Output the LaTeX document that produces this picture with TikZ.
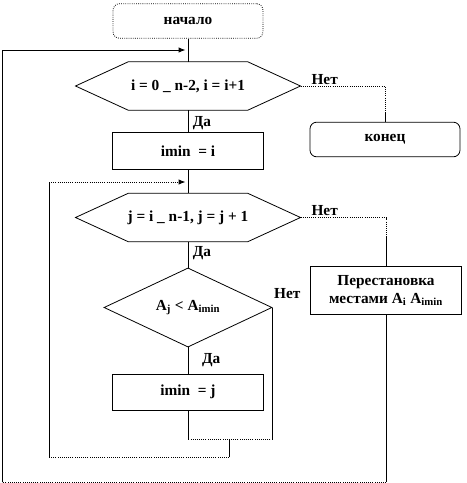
\documentclass[tikz,border=0pt]{standalone}
\usepackage{fontspec}
\setmainfont{Liberation Serif}
\usetikzlibrary{arrows.meta,positioning,calc,shapes.geometric}

\begin{document}
\begin{tikzpicture}[x=0.75pt,y=-0.75pt,line width=0.6pt,
  font=\fontsize{11.5}{13.5}\selectfont\bfseries,
  term/.style={draw,densely dotted,rounded corners=5pt,minimum width=112.5pt,minimum height=26pt,inner sep=0pt},
  proc/.style={draw,minimum width=113pt,minimum height=28pt,inner sep=0pt},
  hexa/.style={minimum width=168.75pt,minimum height=36.5pt,inner sep=0pt,outer sep=0pt},
  cond/.style={draw,diamond,minimum width=126pt,minimum height=44pt,inner sep=0pt},
  lab/.style={anchor=south west,inner sep=1pt},
  tip/.style={-{Latex[length=5pt,width=4pt]},shorten >=2pt}]
  \useasboundingbox (0,0) rectangle (467,483);

  \node[term] (start) at (188,21) {начало};
  \node[hexa] (loop1) at (188,86) {i = 0 \_ n-2, i = i+1};
  \node[proc] (imin1) at (188,151) {imin~ = i};
  \node[term,draw=black,solid] (end) at (385,139.5) {конец};
  \node[hexa] (loop2) at (188,217.5) {j = i \_ n-1, j = j + 1};
  \node[proc,minimum height=36.5pt,align=center] (swap) at (386,290.5) {Перестановка\\местами A\textsubscript{i} A\textsubscript{imin}};
  \node[cond] (test) at (188,307.5) {A\textsubscript{j} < A\textsubscript{imin}};
  \node[proc,minimum height=27pt] (imin2) at (188,392) {imin~ = j};

  \foreach \h in {loop1,loop2}
    \draw (\h.west) -- ($(\h.north west)+(53,0)$) -- ($(\h.north east)+(-53,0)$)
      -- (\h.east) -- ($(\h.south east)+(-53,0)$) -- ($(\h.south west)+(53,0)$) -- cycle;

  \coordinate (ret1) at (188,50);
  \coordinate (outer) at (2,482);
  \coordinate (ret2) at (188,182);
  \coordinate (inner) at (49,182);
  \coordinate (join) at (188,439);
  \coordinate (back) at (229,439);

  \draw (start) -- (loop1);
  \draw (loop1) -- node[right,pos=0.6] {Да} (imin1);
  \draw[densely dotted] (loop1.east) node[lab,xshift=7pt] {Нет} -| (end);
  \draw (end.north) -- ++(0,-10);
  \draw (imin1) -- (loop2);
  \draw (loop2) -- node[right,pos=0.45] {Да} (test);
  \draw[densely dotted] (loop2.east) node[lab,xshift=7pt] {Нет} -| (swap);
  \draw (swap.north) -- ++(0,-30);
  \draw (test) -- node[right,xshift=7pt] {Да} (imin2);
  \draw (test.east) node[lab,yshift=5pt] {Нет} -- (test.east |- join);
  \draw[densely dotted] (test.east |- join) -- (join);
  \draw (imin2) -- (join);
  \draw (back) -- ++(0,18) coordinate (b2);
  \draw[densely dotted] (b2) -- (inner |- b2);
  \draw (inner |- b2) -- (inner);
  \draw[densely dotted,tip] (inner) -- (ret2);
  \draw (swap.south) -- (swap.south |- outer);
  \draw[densely dotted] (swap.south |- outer) -- (outer);
  \draw[tip] (outer) |- (ret1);
\end{tikzpicture}
\end{document}
